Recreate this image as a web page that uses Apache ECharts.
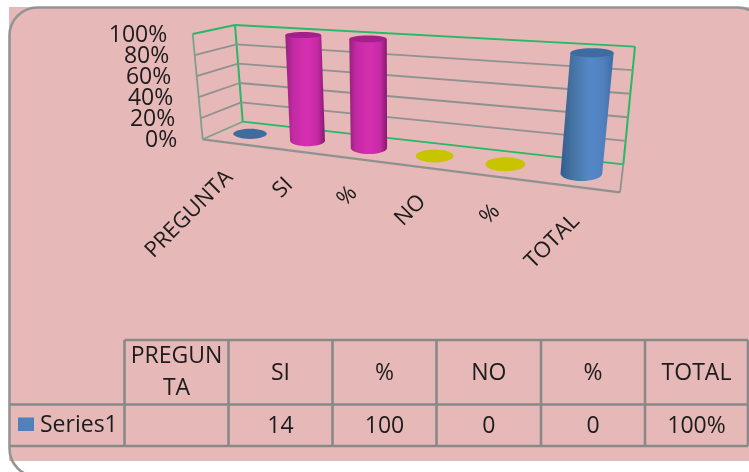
<!DOCTYPE html>
<html>
<head>
<meta charset="utf-8">
<title>PREGUNTA</title>
<style>html,body{margin:0;padding:0;background:#fff}#chart{width:749px;height:472px}</style>
<script src="https://cdn.jsdelivr.net/npm/echarts@6/dist/echarts.min.js"></script>
</head>
<body>
<div id="chart"></div>
<script>
// Data
const categories = ['PREGUNTA', 'SI', '%', 'NO', '%', 'TOTAL'];
const seriesName = 'Series1';
const seriesValues = [0, 14, 100, 0, 0, 100];
const tableHeaders = [['PREGUN', 'TA'], ['SI'], ['%'], ['NO'], ['%'], ['TOTAL']];
const tableValues = ['', '14', '100', '0', '0', '100%'];
const percentTicks = [0, 20, 40, 60, 80, 100];

// Single series on a 100% stacked axis: each non-empty column fills its category.
const shares = seriesValues.map(v => (v > 0 ? v / v * 100 : 0));

// Per-column colours
const blue = { edge: '#2f5c92', soft: '#44719f', mid: '#5588c9', late: '#5080bc', end: '#3c6ca6', cap: '#3f6c9f' };
const magenta = { edge: '#98207f', soft: '#c42aa4', mid: '#d62fb2', late: '#c42aa4', end: '#85196f', cap: '#a3208a' };
const yellow = { edge: '#c8c400', soft: '#c8c400', mid: '#c8c400', late: '#c8c400', end: '#c8c400', cap: '#c8c400' };
const columnPalette = [blue, magenta, magenta, yellow, yellow, blue];

// 3D box: floor and ceiling corners of the plot on screen
const floor = { fl: [202.7, 139.3], fr: [620, 192.3], bl: [242.7, 121.7], br: [623.3, 164.3] };
const ceil = { fl: [192.7, 34], fr: [634, 64], bl: [235, 25], br: [635, 46.7] };
const foreshorten = 0.81;
const columnWidth = 0.54;
const columnDepth = 0.56;

const lerp = (a, b, t) => a + (b - a) * t;
const mix = (p, q, t) => [lerp(p[0], q[0], t), lerp(p[1], q[1], t)];

function quad(c, s, d) {
  return mix(mix(c.bl, c.br, s), mix(c.fl, c.fr, s), d);
}

// u: 0..1 along the categories, h: 0..1 up the value axis, d: 0 back .. 1 front
function project(u, h, d) {
  const s = foreshorten * u / (foreshorten * u + 1 - u);
  return mix(quad(floor, s, d), quad(ceil, s, d), h);
}

function unit(api, params, cat, val) {
  const p = api.coord([cat, val]);
  const g = params.coordSys;
  return [(p[0] - g.x) / g.width, (g.y + g.height - p[1]) / g.height];
}

function line(p, q, stroke, width) {
  return {
    type: 'line',
    shape: { x1: p[0], y1: p[1], x2: q[0], y2: q[1] },
    style: { stroke, lineWidth: width, fill: null }
  };
}

const GREEN = '#27b868';
const GRID = '#8e9290';
const EDGE = '#7fa08c';

function renderWalls(params, api) {
  const tick = api.value(1);
  const h = unit(api, params, 0, tick)[1];
  const children = [];
  const isEnd = tick === 0 || tick === 100;
  const frontLeft = project(0, h, 1);
  const backLeft = project(0, h, 0);
  const backRight = project(1, h, 0);
  children.push(line(frontLeft, backLeft, isEnd ? (tick === 100 ? GREEN : EDGE) : GRID, 1.8));
  children.push(line(backLeft, backRight, isEnd ? GREEN : GRID, 1.8));
  if (tick === 0) {
    children.push(line(project(0, 0, 1), project(1, 0, 1), GRID, 2.2));
    children.push(line(project(1, 0, 1), project(1, 0, 0), GRID, 1.8));
    children.push(line(project(0, 0, 1), project(0, 1, 1), EDGE, 1.8));
    children.push(line(project(0, 0, 0), project(0, 1, 0), GREEN, 2));
    children.push(line(project(1, 0, 0), project(1, 1, 0), GREEN, 2));
  }
  children.push({
    type: 'text',
    x: frontLeft[0] - 25.5,
    y: frontLeft[1] + 1,
    style: {
      text: api.value(2) + '%',
      align: 'right',
      verticalAlign: 'middle',
      font: '23px "Open Sans"',
      fill: '#1c1c1c'
    }
  });
  return { type: 'group', children };
}

function renderColumn(params, api) {
  const i = api.value(0);
  const share = api.value(1);
  const colors = columnPalette[i];
  const u = unit(api, params, i, 0)[0];
  const h = unit(api, params, i, share)[1];
  const band = api.size([1, 0])[0] / params.coordSys.width;

  const ring = level => {
    const c = project(u, level, 0.5);
    const l = project(u - band * columnWidth / 2, level, 0.5);
    const r = project(u + band * columnWidth / 2, level, 0.5);
    const b = project(u, level, 0.5 - columnDepth / 2);
    const f = project(u, level, 0.5 + columnDepth / 2);
    // Column radius grows more slowly along the axis than the category spacing
    const rx = Math.abs(r[0] - l[0]) / 2 * 0.65 + 7;
    return { cx: c[0], cy: c[1], rx, ry: Math.abs(f[1] - b[1]) / 2 };
  };
  const base = ring(0);
  const children = [];

  if (h > 0) {
    const top = ring(h);
    const pts = [[top.cx - top.rx, top.cy]];
    for (let a = 180; a >= 0; a -= 10) {
      const t = a * Math.PI / 180;
      pts.push([base.cx + base.rx * Math.cos(t), base.cy + base.ry * Math.sin(t)]);
    }
    pts.push([top.cx + top.rx, top.cy]);
    children.push({
      type: 'polygon',
      shape: { points: pts },
      style: {
        fill: new echarts.graphic.LinearGradient(0, 0, 1, 0, [
          { offset: 0, color: colors.edge },
          { offset: 0.2, color: colors.soft },
          { offset: 0.55, color: colors.mid },
          { offset: 0.82, color: colors.late },
          { offset: 1, color: colors.end }
        ])
      }
    });
    children.push({ type: 'ellipse', shape: top, style: { fill: colors.cap } });
  } else {
    children.push({ type: 'ellipse', shape: base, style: { fill: colors.cap } });
  }

  const anchor = project(u, 0, 1);
  children.push({
    type: 'text',
    x: anchor[0] - 2,
    y: anchor[1] + 31,
    rotation: Math.PI / 4,
    style: {
      text: categories[i],
      align: 'right',
      verticalAlign: 'middle',
      font: '22px "Open Sans"',
      fill: '#1c1c1c'
    }
  });
  return { type: 'group', children };
}

// Data table under the plot
const colEdges = [124.5, 228.5, 332.5, 436.5, 541, 645, 748];
const rowEdges = [340, 404.5, 446];
const tableLeft = 10;
const tableStroke = '#888a88';
const cellFont = '23px "Open Sans"';
const tableGraphics = [];

function tableLine(x1, y1, x2, y2) {
  tableGraphics.push({
    type: 'line', z: 5,
    shape: { x1, y1, x2, y2 },
    style: { stroke: tableStroke, lineWidth: 2.6 }
  });
}
function tableText(text, x, y) {
  tableGraphics.push({
    type: 'text', z: 6, x, y,
    style: { text, align: 'center', verticalAlign: 'middle', font: cellFont, fill: '#1c1c1c' }
  });
}

tableLine(colEdges[0], rowEdges[0], colEdges[6], rowEdges[0]);
tableLine(tableLeft, rowEdges[1], colEdges[6], rowEdges[1]);
tableLine(tableLeft, rowEdges[2], colEdges[6], rowEdges[2]);
colEdges.forEach(x => tableLine(x, rowEdges[0], x, rowEdges[2]));

categories.forEach((_, i) => {
  const cx = (colEdges[i] + colEdges[i + 1]) / 2;
  const head = tableHeaders[i];
  if (head.length === 2) {
    tableText(head[0], cx, 356);
    tableText(head[1], cx, 388);
  } else {
    tableText(head[0], cx, 373);
  }
  if (tableValues[i]) tableText(tableValues[i], cx, 426);
});

tableGraphics.push({
  type: 'rect', z: 6,
  shape: { x: 18, y: 417.5, width: 16, height: 13.5 },
  style: { fill: '#4f81bd' }
});
tableGraphics.push({
  type: 'text', z: 6, x: 40, y: 425,
  style: { text: seriesName, align: 'left', verticalAlign: 'middle', font: cellFont, fill: '#1c1c1c' }
});

// Pink panel with its rounded outline, which runs past the page edge
const panelGraphics = [
  { type: 'rect', z: -3, shape: { x: 9, y: 7, width: 740, height: 454 }, style: { fill: '#e6b8b7' } },
  {
    type: 'rect', z: -2,
    shape: { x: 9.5, y: 7.5, width: 756, height: 469, r: 28 },
    style: { fill: null, stroke: '#949494', lineWidth: 2.6 }
  }
];

const chart = echarts.init(document.getElementById('chart'), null, { renderer: 'canvas' });
chart.setOption({
  animation: false,
  backgroundColor: '#ffffff',
  grid: { left: 200, top: 30, width: 430, height: 110 },
  xAxis: { type: 'category', data: categories, show: false },
  yAxis: { type: 'value', min: 0, max: 100, interval: 20, show: false },
  graphic: { elements: panelGraphics.concat(tableGraphics) },
  series: [
    {
      name: 'walls',
      type: 'custom',
      silent: true,
      z: 2,
      clip: false,
      renderItem: renderWalls,
      encode: { x: 0, y: 1 },
      data: percentTicks.map(t => [0, t, t])
    },
    {
      name: seriesName,
      type: 'custom',
      silent: true,
      z: 3,
      clip: false,
      renderItem: renderColumn,
      encode: { x: 0, y: 1 },
      data: shares.map((s, i) => [i, s])
    }
  ]
});
</script>
</body>
</html>
